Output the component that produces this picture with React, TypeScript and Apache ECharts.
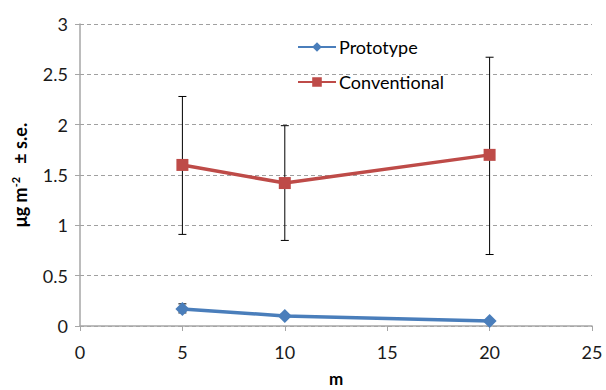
import React, { useEffect, useRef } from "react";
import * as echarts from "echarts";

const xValues = [5, 10, 20];
const prototypeMean = [0.17, 0.1, 0.05];
const prototypeLow = [0.13, 0.08, 0.04];
const prototypeHigh = [0.22, 0.12, 0.06];
const conventionalMean = [1.6, 1.42, 1.7];
const conventionalLow = [0.91, 0.85, 0.71];
const conventionalHigh = [2.28, 1.99, 2.67];

const FONT = "Lato, 'Open Sans', sans-serif";

function errorSeries(name: string, lows: number[], highs: number[]) {
  const data = xValues.map((x, i) => [x, lows[i], highs[i]]);
  return {
    type: "custom",
    name,
    z: 1,
    silent: true,
    renderItem: (params: any, api: any) => {
      const x = api.value(0);
      const lo = api.coord([x, api.value(1)]);
      const hi = api.coord([x, api.value(2)]);
      const cap = 4;
      const style = { stroke: "#000", lineWidth: 1 };
      return {
        type: "group",
        children: [
          { type: "line", shape: { x1: lo[0], y1: lo[1], x2: hi[0], y2: hi[1] }, style },
          { type: "line", shape: { x1: lo[0] - cap, y1: lo[1], x2: lo[0] + cap, y2: lo[1] }, style },
          { type: "line", shape: { x1: hi[0] - cap, y1: hi[1], x2: hi[0] + cap, y2: hi[1] }, style },
        ],
      };
    },
    data,
    encode: { x: 0, y: [1, 2] },
  };
}

export default function App() {
  const ref = useRef<HTMLDivElement>(null);
  useEffect(() => {
    if (!ref.current) return;
    const chart = echarts.init(ref.current, undefined, { renderer: "svg" });
    chart.setOption({
      animation: false,
      backgroundColor: "#fff",
      grid: { left: 80, right: 14, top: 24, bottom: 64, containLabel: false, outerBoundsMode: "none" },
      legend: {
        orient: "vertical",
        left: 292,
        top: 33,
        itemWidth: 38,
        itemHeight: 12,
        itemGap: 17,
        data: ["Prototype", "Conventional"],
        textStyle: { fontFamily: FONT, fontSize: 18, color: "#000", padding: [0, 0, 0, -2] },
      },
      xAxis: {
        type: "value",
        min: 0,
        max: 25,
        interval: 5,
        name: "m",
        nameLocation: "middle",
        nameGap: 44,
        nameTextStyle: { fontFamily: FONT, fontSize: 17, fontWeight: "bold", color: "#000" },
        axisLine: { show: true, lineStyle: { color: "#a6a6a6", width: 1.5 } },
        axisTick: { show: true, length: 5, lineStyle: { color: "#a6a6a6" } },
        axisLabel: { fontFamily: FONT, fontSize: 18, color: "#1a1a1a", margin: 17 },
        splitLine: { show: false },
      },
      yAxis: {
        type: "value",
        min: 0,
        max: 3,
        interval: 0.5,
        name: "{a|μg m}{s|-2}{a|   ± s.e.}",
        nameLocation: "middle",
        nameGap: 50,
        nameTextStyle: {
          rich: {
            a: { fontFamily: FONT, fontSize: 18, fontWeight: "bold", color: "#000" },
            s: { fontFamily: FONT, fontSize: 11, fontWeight: "bold", color: "#000", verticalAlign: "top", padding: [0, 0, 9, 0] },
          },
        },
        axisLine: { show: true, lineStyle: { color: "#a6a6a6", width: 1.5 } },
        axisTick: { show: true, length: 5, lineStyle: { color: "#a6a6a6" } },
        axisLabel: { fontFamily: FONT, fontSize: 18, color: "#1a1a1a", margin: 12 },
        splitLine: { show: true, lineStyle: { color: "#a0a0a0", type: [4, 3], width: 1 } },
      },
      series: [
        errorSeries("pe", prototypeLow, prototypeHigh),
        errorSeries("ce", conventionalLow, conventionalHigh),
        {
          name: "Prototype",
          type: "line",
          z: 3,
          data: xValues.map((x, i) => [x, prototypeMean[i]]),
          symbol: "diamond",
          symbolSize: 14,
          lineStyle: { color: "#4a7ebb", width: 3.5 },
          itemStyle: { color: "#4a7ebb" },
        },
        {
          name: "Conventional",
          type: "line",
          z: 3,
          data: xValues.map((x, i) => [x, conventionalMean[i]]),
          symbol: "rect",
          symbolSize: 12,
          lineStyle: { color: "#be4b48", width: 3.5 },
          itemStyle: { color: "#be4b48" },
        },
      ],
    });
    return () => chart.dispose();
  }, []);
  return <div ref={ref} style={{ width: 606, height: 390, position: "absolute", left: 0, top: 0 }} />;
}
